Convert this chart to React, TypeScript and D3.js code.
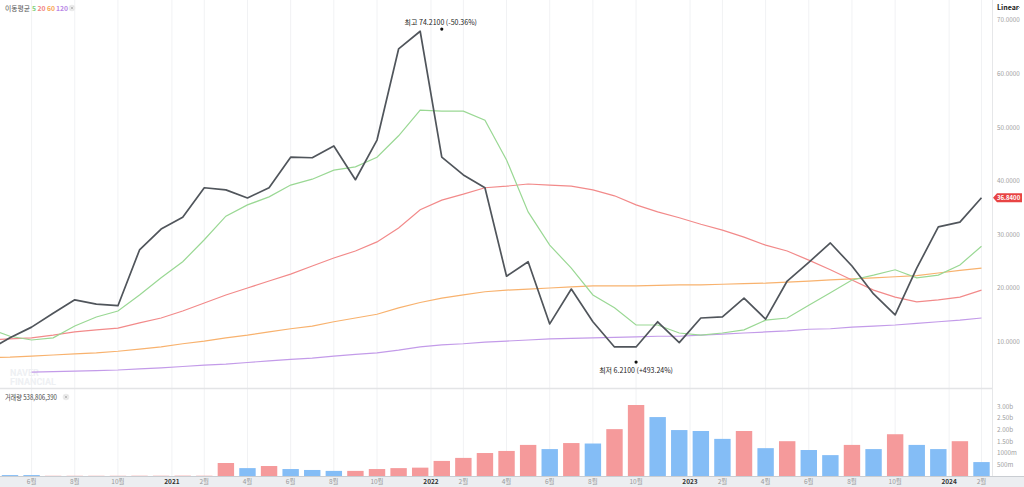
import React from 'react';
import * as d3 from 'd3';

const W = 1024;
const H = 487;

// Monthly categories: Apr 2020 .. Feb 2024
const months: Date[] = d3.timeMonth.range(new Date(2020, 3, 1), new Date(2024, 2, 1));

const closeVals = [
  8.4, 10.7, 12.7, 15.3, 17.8, 17.0, 16.7, 27.1, 31.0,
  33.2, 38.7, 38.3, 36.8, 38.7, 44.4, 44.3, 46.5, 40.2, 47.6, 64.6, 67.9,
  44.4, 41.1, 38.7, 22.2, 24.9, 13.3, 19.8, 13.7, 9.0, 9.0, 13.7, 9.8,
  14.4, 14.6, 18.1, 14.2, 21.3, 24.8, 28.4, 24.1, 18.9, 15.0, 23.7, 31.4,
  32.3, 36.84,
];
const ma5 = [
  12.5, 11.0, 10.3, 10.7, 12.9, 14.6, 15.7, 18.7, 21.9,
  24.9, 29.0, 33.4, 35.5, 37.0, 39.2, 40.3, 42.0, 42.6, 44.4, 48.4, 53.2,
  53.0, 53.0, 51.3, 43.9, 34.2, 28.0, 23.7, 18.7, 16.3, 13.1, 13.1, 11.6,
  11.2, 11.6, 12.2, 14.0, 14.4, 16.8, 19.1, 21.5, 22.4, 23.4, 21.9, 22.4,
  24.3, 27.8,
];
const ma20 = [
  10.3, 10.5, 10.7, 11.2, 11.8, 12.2, 12.5, 13.5, 14.4,
  15.7, 17.2, 18.7, 20.0, 21.3, 22.6, 24.1, 25.6, 26.9, 28.6, 31.2, 34.6,
  36.4, 37.5, 38.7, 39.0, 39.4, 39.2, 39.0, 38.3, 37.2, 35.5, 34.2, 33.1,
  31.9, 30.8, 29.5, 28.0, 26.9, 25.2, 23.4, 21.5, 19.6, 18.3, 17.4, 17.8,
  18.3, 19.6,
];
const ma60 = [
  7.0, 7.1, 7.3, 7.5, 7.7, 7.9, 8.2, 8.6, 9.0,
  9.6, 10.1, 10.7, 11.2, 11.8, 12.4, 12.9, 13.7, 14.4, 15.1, 16.3, 17.3,
  18.1, 18.7, 19.3, 19.6, 19.8, 20.0, 20.2, 20.4, 20.4, 20.4, 20.5, 20.6,
  20.6, 20.7, 20.8, 20.9, 21.1, 21.3, 21.5, 21.7, 21.9, 22.1, 22.3, 22.8,
  23.3, 23.7,
];
const ma120: (number | null)[] = [
  null, null, 4.3, 4.4, 4.5, 4.6, 4.7, 4.9, 5.1,
  5.35, 5.6, 5.8, 6.1, 6.4, 6.7, 6.9, 7.3, 7.6, 7.9, 8.4, 9.0,
  9.4, 9.6, 9.9, 10.1, 10.3, 10.5, 10.6, 10.7, 10.8, 10.9, 11.0, 11.0,
  11.2, 11.4, 11.6, 11.8, 12.0, 12.3, 12.4, 12.7, 12.9, 13.1, 13.4, 13.7,
  14.0, 14.4,
];
// volume in billions
const volume = [
  0.03, 0.04, 0.04, 0.01, 0.01, 0.01, 0.01, 0.012, 0.012,
  0.015, 0.012, 0.56, 0.34, 0.43, 0.30, 0.26, 0.22, 0.22, 0.30, 0.34, 0.36,
  0.65, 0.78, 0.99, 1.08, 1.34, 1.16, 1.42, 1.40, 2.02, 3.06, 2.54, 1.98,
  1.94, 1.60, 1.94, 1.20, 1.50, 1.12, 0.90, 1.34, 1.16, 1.80, 1.34, 1.16,
  1.50, 0.60,
];
const volUp = [
  0, 0, 0, 1, 1, 1, 1, 1, 1,
  1, 1, 1, 0, 1, 0, 0, 0, 1, 1, 1, 1,
  1, 1, 1, 1, 1, 0, 1, 0, 1, 1, 0, 0,
  0, 0, 1, 0, 1, 0, 0, 1, 0, 1, 0, 0,
  1, 0,
];
const priceTicks = [10, 20, 30, 40, 50, 60, 70];
const volTicks = [0.5, 1, 1.5, 2, 2.5, 3];
const volTickLabels = ['500m', '1000m', '1.50b', '2.00b', '2.50b', '3.00b'];
const labeledMonths = [2, 4, 6, 8, 10];

const hiIndex = 21;
const hiMarkValue = 68.3;
const hiText = '최고 74.2100 (-50.36%)';
const loIndex = 30;
const loMarkValue = 5.9;
const loText = '최저 6.2100 (+493.24%)';
const lastPriceText = '36.8400';
const volumeText = '거래량 538,806,390';
const legendTitle = '이동평균';

const legendItems = [
  { t: '5', c: '#7fcf78' },
  { t: '20', c: '#f08585' },
  { t: '60', c: '#f7a857' },
  { t: '120', c: '#b987e6' },
];

const KR = '"Noto Sans CJK KR", "Noto Sans", sans-serif';

function CloseIcon({ cx, cy }: { cx: number; cy: number }) {
  return (
    <g>
      <circle cx={cx} cy={cy} r={3.3} fill="#ebebeb" />
      <path
        d={`M${cx - 1.2},${cy - 1.2} L${cx + 1.2},${cy + 1.2} M${cx + 1.2},${cy - 1.2} L${cx - 1.2},${cy + 1.2}`}
        stroke="#aaa"
        strokeWidth={0.7}
      />
    </g>
  );
}

export default function App() {
  const plotRight = 992;
  const priceTop = 0;
  const priceBottom = 388;
  const volBottom = 476;

  const x = d3.scaleLinear().domain([0, 46]).range([-11.6, 981.5]);
  const step = x(1) - x(0);
  const y = d3.scaleLinear().domain([0, 70]).range([395.2, 20]);
  const yv = d3.scaleLinear().domain([0, 1]).range([volBottom, volBottom - 23.2]);

  const lineGen = d3
    .line<number | null>()
    .defined((d) => d != null)
    .x((_, i) => x(i))
    .y((d) => y(d as number));

  // ticks
  const ticks: { x: number; label: string; year: boolean }[] = [];
  months.forEach((m, i) => {
    const mo = m.getMonth() + 1;
    if (mo === 1) ticks.push({ x: x(i) - step / 2, label: String(m.getFullYear()), year: true });
    else if (labeledMonths.includes(mo)) ticks.push({ x: x(i), label: `${mo}월`, year: false });
  });

  const lastY = y(closeVals[closeVals.length - 1]);
  const legendX = [32, 37.5, 47, 56];

  return (
    <>
      <style>{`body{margin:0}`}</style>
      <svg width={W} height={H} style={{ display: 'block', fontFamily: KR }}>
        <defs>
          <clipPath id="pc">
            <rect x={0} y={priceTop} width={plotRight} height={priceBottom - priceTop} />
          </clipPath>
          <clipPath id="vc">
            <rect x={0} y={priceBottom} width={plotRight} height={volBottom - priceBottom} />
          </clipPath>
        </defs>
        <rect width={W} height={H} fill="#fff" />
        {/* vertical grid */}
        {ticks.map((t, i) => (
          <line key={i} x1={t.x} x2={t.x} y1={0} y2={volBottom} stroke="#f1f2f4" strokeWidth={1} />
        ))}
        {/* watermark */}
        <text x={10} y={376} fontSize={9} fontWeight={700} fill="#eef0f3" fontFamily="Roboto, sans-serif">NAVER</text>
        <text x={10} y={385} fontSize={9} fontWeight={700} fill="#eef0f3" fontFamily="Roboto, sans-serif">FINANCIAL</text>

        <g clipPath="url(#pc)">
          <path d={lineGen(ma120) || ''} fill="none" stroke="#c39be9" strokeWidth={1.2} />
          <path d={lineGen(ma60) || ''} fill="none" stroke="#f8b26e" strokeWidth={1.2} />
          <path d={lineGen(ma20) || ''} fill="none" stroke="#f28a8a" strokeWidth={1.2} />
          <path d={lineGen(ma5) || ''} fill="none" stroke="#9ad894" strokeWidth={1.2} />
          <path d={lineGen(closeVals) || ''} fill="none" stroke="#50555b" strokeWidth={1.7} strokeLinejoin="round" />
        </g>

        {/* annotations */}
        <text x={x(hiIndex) - 1} y={25} fontSize={7} fill="#222" textAnchor="middle">{hiText}</text>
        <circle cx={x(hiIndex)} cy={y(hiMarkValue)} r={1.6} fill="#111" />
        <circle cx={x(loIndex)} cy={y(loMarkValue) - 1.5} r={1.6} fill="#111" />
        <text x={x(loIndex)} y={373} fontSize={7} fill="#222" textAnchor="middle">{loText}</text>

        {/* pane separator */}
        <line x1={0} x2={W} y1={priceBottom + 0.5} y2={priceBottom + 0.5} stroke="#e3e4e6" strokeWidth={1.5} />

        {/* volume bars */}
        <g clipPath="url(#vc)">
          {volume.map((v, i) => (
            <rect
              key={i}
              x={x(i) - step * 0.38}
              y={yv(v)}
              width={step * 0.76}
              height={Math.max(0.6, volBottom - yv(v))}
              fill={volUp[i] ? '#f59a9b' : '#84bdf6'}
            />
          ))}
        </g>

        {/* axis band */}
        <rect x={0} y={volBottom} width={W} height={H - volBottom} fill="#eceef1" />
        <line x1={0} x2={W} y1={volBottom + 0.5} y2={volBottom + 0.5} stroke="#c9cdd2" />
        {ticks.map((t, i) =>
          t.x > 0 && t.x < plotRight ? (
            <text
              key={i}
              x={t.x}
              y={484}
              fontSize={6.5}
              textAnchor="middle"
              fill={t.year ? '#333' : '#999'}
              fontWeight={t.year ? 700 : 400}
            >
              {t.label}
            </text>
          ) : null
        )}

        {/* right axis */}
        <rect x={plotRight} y={0} width={W - plotRight} height={volBottom} fill="#fff" />
        <line x1={plotRight + 0.5} x2={plotRight + 0.5} y1={0} y2={volBottom} stroke="#e6e7e9" />
        <text x={997} y={10} fontSize={7} fill="#222" fontWeight={700}>Linear</text>
        <path d="M1017,7 l1.5,1.5 l1.5,-1.5" fill="none" stroke="#888" strokeWidth={0.7} />
        {priceTicks.map((t) => (
          <text key={t} x={997} y={y(t) + 2.3} fontSize={6.3} fill="#a0a0a0">
            {t.toFixed(4)}
          </text>
        ))}
        {volTicks.map((t, i) => (
          <text key={t} x={997} y={yv(t) + 2.3} fontSize={6.3} fill="#a0a0a0">
            {volTickLabels[i]}
          </text>
        ))}
        {/* last price tag */}
        <path
          d={`M${plotRight + 1},${lastY} L${plotRight + 5},${lastY - 4.6} L1022,${lastY - 4.6} L1022,${lastY + 4.6} L${plotRight + 5},${lastY + 4.6} Z`}
          fill="#e84444"
        />
        <text x={997} y={lastY + 2.2} fontSize={6} fill="#fff" fontWeight={700}>{lastPriceText}</text>

        {/* legend */}
        <text x={5} y={10.5} fontSize={6.8} fill="#555" textLength={25} lengthAdjust="spacingAndGlyphs">
          {legendTitle}
        </text>
        {legendItems.map((l, i) => (
          <text key={l.t} x={legendX[i]} y={10.5} fontSize={6.8} fill={l.c} fontWeight={700}>
            {l.t}
          </text>
        ))}
        <CloseIcon cx={72} cy={8} />

        <text x={5} y={400} fontSize={7.3} fill="#444" textLength={52} lengthAdjust="spacingAndGlyphs">
          {volumeText}
        </text>
        <CloseIcon cx={66} cy={397} />
      </svg>
    </>
  );
}
